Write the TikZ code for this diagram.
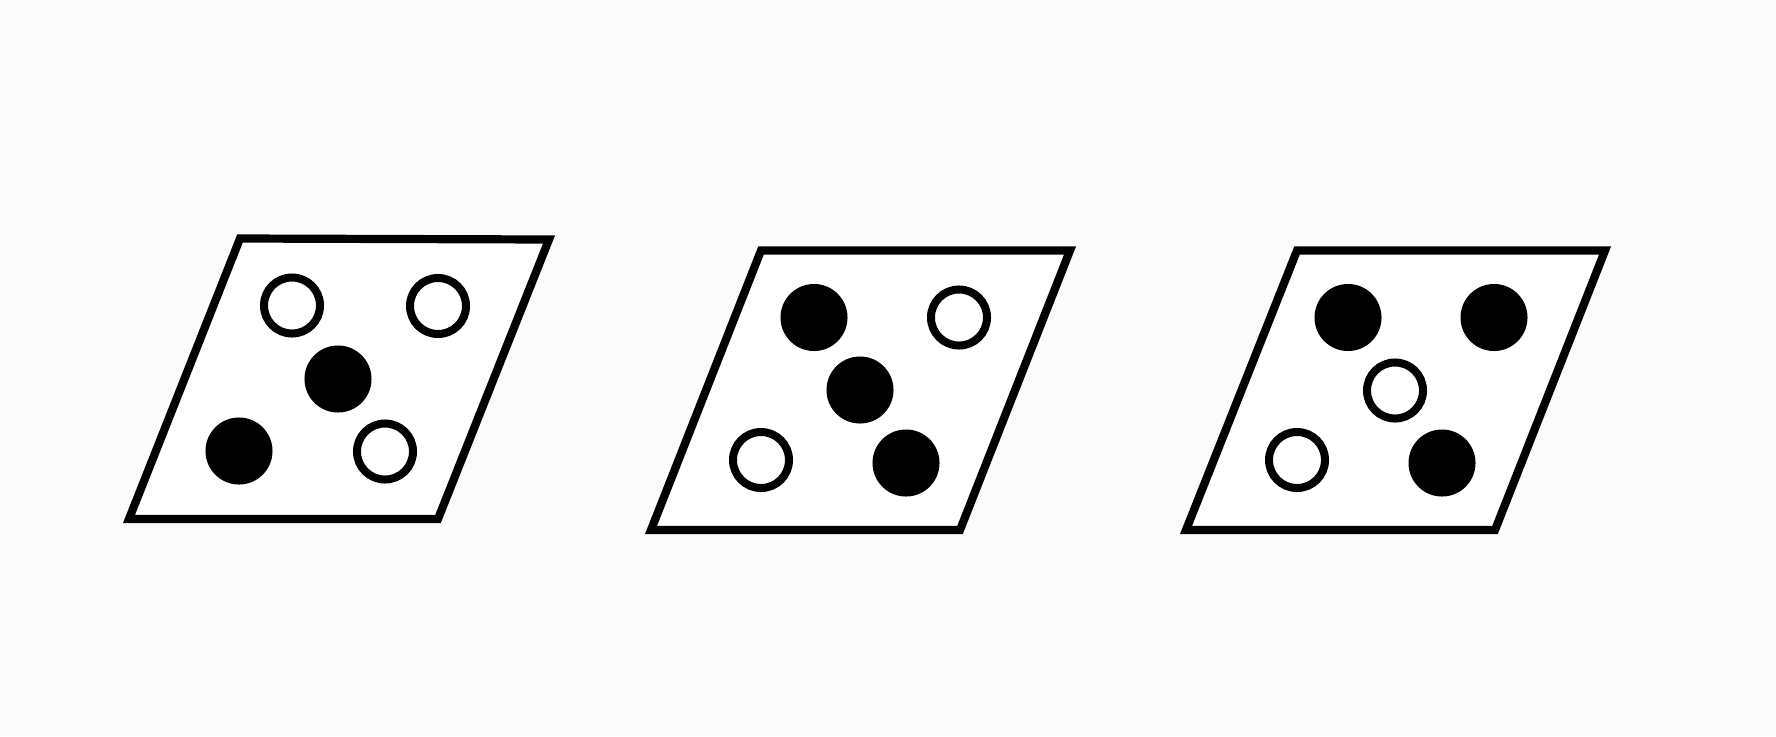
\documentclass[tikz,border=0pt]{standalone}
\begin{document}
\begin{tikzpicture}[x=0.01cm,y=-0.01cm,
  frame/.style={draw=black,line width=0.082cm,line join=miter},
  opendot/.style={circle,draw=black,fill=white,line width=0.08cm,inner sep=0pt,minimum size=0.56cm},
  fulldot/.style={circle,fill=black,inner sep=0pt,minimum size=0.67cm}]
\fill[fill={rgb,255:red,251;green,251;blue,251}] (0,0) rectangle (1776,736);
\useasboundingbox (0,0) rectangle (1776,736);
% panel 1
\draw[frame,fill=white] (240,238.5) -- (549,239.5) -- (438,519) -- (129,519) -- cycle;
\node[opendot] (a1) at (292,305.5) {};
\node[opendot] (a2) at (438,306) {};
\node[fulldot] (a3) at (338,379) {};
\node[fulldot] (a4) at (239,451) {};
\node[opendot] (a5) at (385,451.5) {};
% panel 2
\draw[frame,fill=white] (761,250.5) -- (1070,250.5) -- (960,530) -- (651,530) -- cycle;
\node[fulldot] (b1) at (814,317.5) {};
\node[opendot] (b2) at (959,317.5) {};
\node[fulldot] (b3) at (860,390) {};
\node[opendot] (b4) at (761,460) {};
\node[fulldot] (b5) at (906,463) {};
% panel 3
\draw[frame,fill=white] (1297,250.5) -- (1605,250.5) -- (1495,530) -- (1186,530) -- cycle;
\node[fulldot] (c1) at (1348,317.5) {};
\node[fulldot] (c2) at (1494,317.5) {};
\node[opendot] (c3) at (1395,390.5) {};
\node[opendot] (c4) at (1297,460) {};
\node[fulldot] (c5) at (1442,463) {};
\end{tikzpicture}
\end{document}
